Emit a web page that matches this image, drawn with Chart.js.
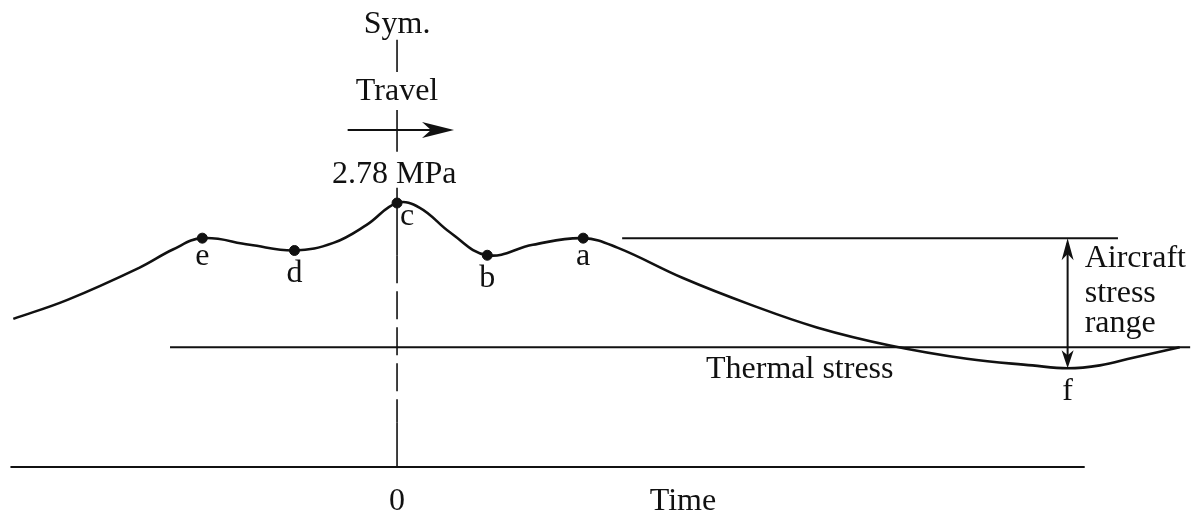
<!DOCTYPE html>
<html>
<head>
<meta charset="utf-8">
<script src="https://cdn.jsdelivr.net/npm/chart.js@4.4.0/dist/chart.umd.min.js"></script>
<style>
  html, body { margin: 0; padding: 0; background: #fff; }
  canvas { display: block; }
</style>
</head>
<body>
<canvas id="chart" width="1193" height="514"></canvas>
<script>
// stress at the bottom of the slab vs time (c is the peak, at t = 0)
const curveTime = [-4.04, -3.47, -2.71, -2.36, -2.05, -1.55, -1.08, -0.67, -0.32, 0,
  0.24, 0.56, 0.95, 1.43, 1.96, 2.32, 3.01, 3.72, 4.42, 5.19, 6.00, 6.69, 7.06, 7.40, 7.75, 8.24];
const curveStress = [1.56, 1.76, 2.10, 2.29, 2.41, 2.34, 2.28, 2.36, 2.55, 2.78,
  2.73, 2.47, 2.23, 2.34, 2.41, 2.31, 1.99, 1.71, 1.47, 1.28, 1.14, 1.07, 1.04, 1.07, 1.15, 1.26];

// marked points
const markNames = ["e", "d", "c", "b", "a"];
const markTime = [-2.05, -1.08, 0, 0.95, 1.96];
const markStress = [2.41, 2.28, 2.78, 2.23, 2.41];

const aircraftLevel = 2.41;
const thermalLevel = 1.26;
const fTime = 7.06;
const fStress = 1.04;

const black = "#111";

function seg(x1, y1, x2, y2, extra) {
  return Object.assign({
    type: "line",
    data: [{ x: x1, y: y1 }, { x: x2, y: y2 }],
    borderColor: black,
    borderWidth: 2,
    pointRadius: 0,
    fill: false,
  }, extra || {});
}

const datasets = [
  {
    type: "line",
    data: curveTime.map((t, i) => ({ x: t, y: curveStress[i] })),
    borderColor: black,
    borderWidth: 2.6,
    pointRadius: 0,
    tension: 0.4,
    fill: false,
  },
  {
    type: "scatter",
    data: markTime.map((t, i) => ({ x: t, y: markStress[i] })),
    backgroundColor: black,
    borderColor: black,
    pointRadius: 5,
  },
  seg(-4.07, 0, 7.24, 0),                         // time axis
  seg(-2.39, thermalLevel, 8.35, thermalLevel),   // thermal stress
  seg(2.37, aircraftLevel, 7.59, aircraftLevel),  // peak level
  seg(fTime, aircraftLevel - 0.05, fTime, fStress + 0.05),
  // symmetry line
  seg(0, 4.50, 0, 4.16, { borderWidth: 1.6 }),
  seg(0, 3.76, 0, 3.32, { borderWidth: 1.6 }),
  seg(0, 2.94, 0, 2.23, { borderWidth: 1.6 }),
  seg(0, 2.23, 0, 0.47, { borderWidth: 1.6, borderDash: [28, 8] }),
  seg(0, 0.47, 0, 0, { borderWidth: 1.6 }),
  // travel arrow shaft
  seg(-0.52, 3.55, 0.56, 3.55),
];

const labels = [
  { text: "Sym.", x: 0, y: 4.57, align: "center" },
  { text: "Travel", x: 0, y: 3.86, align: "center" },
  { text: "2.78 MPa", x: -0.03, y: 2.99, align: "center" },
  { text: "Aircraft", x: 7.24, y: 2.11, align: "left" },
  { text: "stress", x: 7.24, y: 1.74, align: "left" },
  { text: "range", x: 7.24, y: 1.42, align: "left" },
  { text: "Thermal stress", x: 4.24, y: 0.94, align: "center" },
  { text: "f", x: fTime, y: 0.71, align: "center" },
  { text: "0", x: 0, y: -0.45, align: "center" },
  { text: "Time", x: 3.01, y: -0.45, align: "center" },
];
// pixel offsets of the point letters below their dots
const markOffsets = [[0, 27], [0, 32], [10, 22], [0, 32], [0, 27]];

function arrowHead(ctx, x, y, angle, len, half) {
  ctx.save();
  ctx.translate(x, y);
  ctx.rotate(angle);
  ctx.beginPath();
  ctx.moveTo(0, 0);
  ctx.lineTo(-len, -half);
  ctx.lineTo(-len * 0.72, 0);
  ctx.lineTo(-len, half);
  ctx.closePath();
  ctx.fill();
  ctx.restore();
}

const annotate = {
  id: "annotate",
  afterDatasetsDraw(chart) {
    const ctx = chart.ctx;
    const xs = chart.scales.x;
    const ys = chart.scales.y;
    ctx.save();
    ctx.fillStyle = black;
    ctx.font = '32px "Liberation Serif"';
    ctx.textBaseline = "alphabetic";

    labels.forEach((l) => {
      ctx.textAlign = l.align;
      ctx.fillText(l.text, xs.getPixelForValue(l.x), ys.getPixelForValue(l.y));
    });

    ctx.textAlign = "center";
    markNames.forEach((n, i) => {
      const px = xs.getPixelForValue(markTime[i]) + markOffsets[i][0];
      const py = ys.getPixelForValue(markStress[i]) + markOffsets[i][1];
      ctx.fillText(n, px, py);
    });

    // arrow heads
    arrowHead(ctx, xs.getPixelForValue(0.60), ys.getPixelForValue(3.55), 0, 32, 8);
    arrowHead(ctx, xs.getPixelForValue(fTime), ys.getPixelForValue(aircraftLevel), -Math.PI / 2, 22, 6);
    arrowHead(ctx, xs.getPixelForValue(fTime), ys.getPixelForValue(fStress), Math.PI / 2, 18, 6);
    ctx.restore();
  },
};

new Chart(document.getElementById("chart").getContext("2d"), {
  type: "line",
  data: { datasets: datasets },
  options: {
    responsive: false,
    animation: false,
    events: [],
    layout: { padding: 0, autoPadding: false },
    plugins: {
      legend: { display: false },
      tooltip: { enabled: false },
    },
    scales: {
      x: { type: "linear", min: -4.18, max: 8.38, display: false },
      y: { type: "linear", min: -0.495, max: 4.918, display: false },
    },
  },
  plugins: [annotate],
});
</script>
</body>
</html>
